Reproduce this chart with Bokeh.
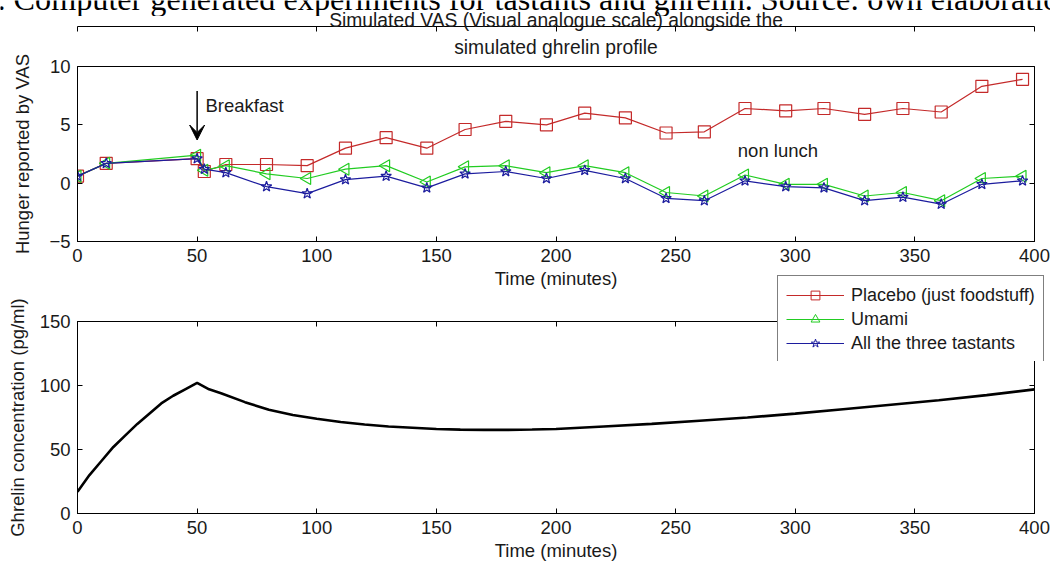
import numpy as np
from bokeh.plotting import figure
from bokeh.models import (LinearAxis, FixedTicker, Title, Label, Arrow, VeeHead,
                          Legend, LegendItem, Range1d, Spacer)
from bokeh.layouts import column, row
from bokeh.embed import file_html
from bokeh.resources import INLINE

# ---------------- data ----------------
time_vas = [0, 12, 50, 53, 62, 79, 96, 112, 129, 146, 162, 179, 196, 212, 229,
            246, 262, 279, 296, 312, 329, 345, 361, 378, 395]
placebo = [0.6, 1.7, 2.1, 1.0, 1.6, 1.6, 1.5, 3.0, 3.9, 3.0, 4.6, 5.3, 5.0, 6.0, 5.6,
           4.3, 4.4, 6.4, 6.2, 6.4, 5.9, 6.4, 6.1, 8.3, 8.9]
umami = [0.6, 1.7, 2.4, 1.1, 1.5, 0.8, 0.4, 1.2, 1.5, 0.1, 1.4, 1.5, 0.9, 1.5, 0.9,
         -0.8, -1.1, 0.7, -0.1, -0.1, -1.1, -0.8, -1.5, 0.4, 0.6]
all_three = [0.6, 1.7, 2.1, 1.2, 0.9, -0.3, -0.9, 0.3, 0.6, -0.4, 0.8, 1.0, 0.4, 1.1, 0.4,
             -1.3, -1.5, 0.2, -0.3, -0.4, -1.5, -1.2, -1.8, -0.1, 0.2]

time_ghrelin = [0, 5, 10, 15, 20, 25, 30, 35, 40, 45, 50, 55, 60, 70, 80, 90, 100, 110,
                120, 130, 140, 150, 160, 170, 180, 190, 200, 220, 240, 260, 280, 300,
                320, 340, 360, 380, 400]
ghrelin = [17, 30, 41, 52, 61, 70, 78, 86, 92, 97, 102, 97, 94, 87, 81, 77, 74, 71.5,
           69.5, 68, 67, 66, 65.5, 65.3, 65.3, 65.6, 66, 68, 70, 72.5, 75, 78,
           81.5, 85, 88.5, 92.5, 97]

x_ticks = [0, 50, 100, 150, 200, 250, 300, 350, 400]
vas_ticks = [-5, 0, 5, 10]
ghrelin_ticks = [0, 50, 100, 150]

series_names = ["Placebo (just foodstuff)", "Umami", "All the three tastants"]
caption_text = ". Computer generated experiments for tastants and ghrelin. Source: own elaboration"
title_line1 = "Simulated VAS (Visual analogue scale) alongside the"
title_line2 = "simulated ghrelin profile"

RED = "#c42a2a"
GREEN = "#22cc22"
BLUE = "#1c1c9e"
FONT = "Liberation Sans"
FS = "18.5px"
TFS = "19.3px"
TXT = "#1a1a1a"


def style_axes(p, xt, yt, ylab_standoff):
    for ax in p.xaxis + p.yaxis:
        ax.major_tick_in = 5
        ax.major_tick_out = 0
        ax.minor_tick_line_color = None
        ax.axis_line_color = "black"
        ax.major_tick_line_color = "black"
        ax.major_label_text_font = FONT
        ax.major_label_text_font_size = FS
        ax.major_label_text_color = TXT
        ax.axis_label_text_font = FONT
        ax.axis_label_text_font_size = FS
        ax.axis_label_text_font_style = "normal"
        ax.axis_label_text_color = TXT
    p.xaxis.ticker = FixedTicker(ticks=xt)
    p.yaxis.ticker = FixedTicker(ticks=yt)
    p.xaxis.major_label_standoff = 7
    p.yaxis.major_label_standoff = 7
    p.xaxis.axis_label_standoff = 3
    p.yaxis.axis_label_standoff = ylab_standoff
    # mirrored ticks (box on), labels not drawn
    top_ax = LinearAxis(ticker=FixedTicker(ticks=xt), major_tick_in=5, major_tick_out=0,
                        minor_tick_line_color=None, major_label_text_font_size="1px",
                        major_label_text_color=None, major_label_standoff=0,
                        axis_line_color="black")
    right_ax = LinearAxis(ticker=FixedTicker(ticks=yt), major_tick_in=5, major_tick_out=0,
                          minor_tick_line_color=None, major_label_text_font_size="1px",
                          major_label_text_color=None, major_label_standoff=0,
                          axis_line_color="black")
    p.add_layout(top_ax, "above")
    p.add_layout(right_ax, "right")
    p.grid.visible = False
    p.outline_line_color = "black"


# ---------------- caption strip (cut at the top edge, as in the source) ----------------
cap = figure(width=1050, height=16, x_range=Range1d(0, 1050), y_range=Range1d(0, 16),
             output_backend="svg", toolbar_location=None, min_border=0,
             x_axis_location=None, y_axis_location=None, outline_line_color=None)
cap.grid.visible = False
cap.add_layout(Label(x=-3, y=18, text=caption_text, text_font="Liberation Serif",
                     text_font_size="32.2px", text_color="black", text_baseline="alphabetic"))

# ---------------- top plot ----------------
p1 = figure(width=1050, height=295, x_range=Range1d(0, 400), y_range=Range1d(-5, 10),
            output_backend="svg", toolbar_location=None,
            min_border_left=77, min_border_right=16, min_border_top=66, min_border_bottom=54,
            title=title_line1, border_fill_alpha=0, margin=(-16, 0, 0, 0))
p1.title.align = "center"
p1.title.text_font = FONT
p1.title.text_font_size = TFS
p1.title.text_font_style = "normal"
p1.title.text_color = TXT
p1.title.standoff = -8
p1.add_layout(Title(text=title_line2, align="center", text_font=FONT, text_font_size=TFS,
                    text_font_style="normal", text_color=TXT, standoff=17), "above")

p1.xaxis.axis_label = "Time (minutes)"
p1.yaxis.axis_label = "Hunger reported by VAS"
style_axes(p1, x_ticks, vas_ticks, 13)

p1.line(time_vas, placebo, line_color=RED, line_width=1.2)
p1.scatter(time_vas, placebo, marker="square", size=12, fill_color=None, line_color=RED, line_width=1.2)
p1.line(time_vas, umami, line_color=GREEN, line_width=1.2)
p1.scatter(time_vas, umami, marker="triangle", angle=np.pi / 2, size=12, fill_color=None,
           line_color=GREEN, line_width=1.2)
p1.line(time_vas, all_three, line_color=BLUE, line_width=1.2)
p1.scatter(time_vas, all_three, marker="star", size=11, fill_color=None, line_color=BLUE, line_width=1.2)

p1.add_layout(Arrow(x_start=50, y_start=7.9, x_end=50, y_end=3.7, line_width=1.5, line_color="black",
                    end=VeeHead(size=15, fill_color="black", line_color="black")))
p1.add_layout(Label(x=53.5, y=6.65, text="Breakfast", text_font=FONT, text_font_size=FS,
                    text_color=TXT, text_baseline="alphabetic"))
p1.add_layout(Label(x=276, y=2.8, text="non lunch", text_font=FONT, text_font_size=FS,
                    text_color=TXT, text_baseline="alphabetic"))

# ---------------- bottom plot ----------------
p2 = figure(width=1050, height=293, x_range=Range1d(0, 400), y_range=Range1d(0, 150),
            output_backend="svg", toolbar_location=None,
            min_border_left=77, min_border_right=16, min_border_top=51, min_border_bottom=48,
            border_fill_alpha=0, margin=(-25, 0, 0, 0))
p2.xaxis.axis_label = "Time (minutes)"
p2.yaxis.axis_label = "Ghrelin concentration (pg/ml)"
style_axes(p2, x_ticks, ghrelin_ticks, 9)
p2.line(time_ghrelin, ghrelin, line_color="black", line_width=2.6)

# ---------------- legend box (overlaps both panels, as in the source) ----------------
# proxy renderers carry the real series, but the ranges keep them out of view
leg = figure(width=273, height=86, x_range=Range1d(-1001, -1000), y_range=Range1d(-1001, -1000),
             output_backend="svg", toolbar_location=None, min_border=0,
             x_axis_location=None, y_axis_location=None, outline_line_color=None,
             background_fill_alpha=0, border_fill_alpha=0)
leg.grid.visible = False
l1 = leg.line(time_vas, placebo, line_color=RED, line_width=1.2)
m1 = leg.scatter(time_vas, placebo, marker="square", size=12, fill_color=None, line_color=RED)
l2 = leg.line(time_vas, umami, line_color=GREEN, line_width=1.2)
m2 = leg.scatter(time_vas, umami, marker="triangle", angle=np.pi / 2, size=12, fill_color=None,
                 line_color=GREEN)
l3 = leg.line(time_vas, all_three, line_color=BLUE, line_width=1.2)
m3 = leg.scatter(time_vas, all_three, marker="star", size=11, fill_color=None, line_color=BLUE)
legend = Legend(items=[LegendItem(label=series_names[0], renderers=[l1, m1]),
                       LegendItem(label=series_names[1], renderers=[l2, m2]),
                       LegendItem(label=series_names[2], renderers=[l3, m3])],
                location="top_left", glyph_width=58, glyph_height=22, label_height=22,
                spacing=2, padding=8, margin=0, label_standoff=7,
                label_text_font=FONT, label_text_font_size="18px", label_text_color=TXT,
                border_line_color="black", border_line_width=1, background_fill_color="white",
                background_fill_alpha=1)
leg.add_layout(legend, "center")

cap_row = row(cap)
leg_row = row(Spacer(width=777, height=86), leg, margin=(-288, 0, 202, 0))

layout = column(cap_row, p1, p2, leg_row)
open("out.html", "w").write(file_html(layout, INLINE))
